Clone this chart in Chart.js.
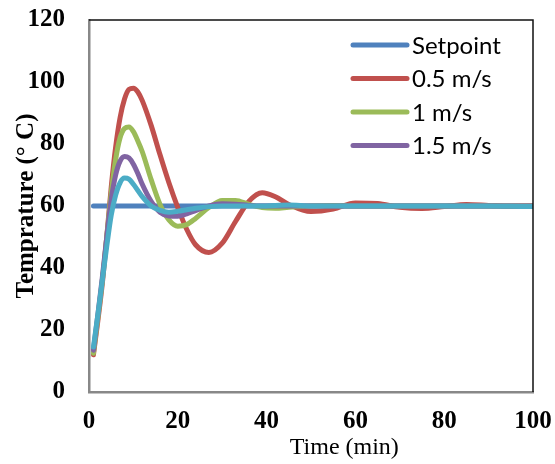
<!DOCTYPE html>
<html>
<head>
<meta charset="utf-8">
<script src="https://cdn.jsdelivr.net/npm/chart.js@4.4.1/dist/chart.umd.min.js"></script>
<style>
  body { margin: 0; background: #fff; }
  #wrap { width: 555px; height: 464px; }
</style>
</head>
<body>
<div id="wrap"><canvas id="myChart" width="555" height="464"></canvas></div>
<script>
// Data
const time =     [1,  2,  3,  4,  5,  6,  7,  8,  9,  10, 11, 12, 14, 16, 18, 20, 22, 24, 27, 30, 33, 36, 39, 42, 45, 50, 55, 60, 65, 70, 75, 80, 85, 90, 95, 100];
const setpoint = [60, 60, 60, 60, 60, 60, 60, 60, 60, 60, 60, 60, 60, 60, 60, 60, 60, 60, 60, 60, 60, 60, 60, 60, 60, 60, 60, 60, 60, 60, 60, 60, 60, 60, 60, 60];
const v05 =      [12, 23, 35, 50, 66, 79, 88.5, 94.5, 97.6, 98, 96.8, 94, 86, 76.5, 67.5, 59.5, 52.5, 47.5, 45, 48, 55, 61.5, 64.3, 63, 60.5, 58.2, 59, 61, 60.8, 59.6, 59.2, 59.8, 60.5, 60.2, 59.9, 60];
const v1 =       [12.5, 24, 36, 50, 64, 75, 82, 85, 85.5, 84, 81, 77.5, 68.5, 60.5, 55.5, 53.5, 54, 56, 59.5, 61.8, 61.8, 60.5, 59.5, 59.3, 59.6, 60, 60.2, 60, 60, 60, 60, 60, 60, 60, 60, 60];
const v15 =      [13.5, 25, 37, 50, 62, 70, 74.5, 76, 75.5, 73.5, 70.5, 67, 61.5, 58, 56.8, 56.7, 57.5, 58.5, 60, 60.7, 60.6, 60.2, 60, 60, 60, 60, 60, 60, 60, 60, 60, 60, 60, 60, 60, 60];
const v2 =       [14.5, 25, 36, 47, 57, 63.5, 67.5, 69, 68.7, 67, 65, 63, 60, 58.6, 58, 58.3, 58.8, 59.3, 59.8, 60, 60, 60, 60, 60.2, 60.3, 60, 60, 60, 60, 60, 60, 60, 60, 60, 59.9, 59.8];
const seriesLabels = ['Setpoint', '0.5 m/s', '1 m/s', '1.5 m/s', '2 m/s'];
const seriesValues = [setpoint, v05, v1, v15, v2];
const colors = ['#4F81BD', '#C0504D', '#9BBB59', '#8064A2', '#4BACC6'];
const legendCount = 4; // last series is not in the legend of the original
const xTicks = [0, 20, 40, 60, 80, 100];
const yTicks = [0, 20, 40, 60, 80, 100, 120];

const datasets = seriesValues.map((vals, i) => ({
  label: seriesLabels[i],
  data: time.map((t, j) => ({ x: t, y: vals[j] })),
  borderColor: colors[i],
  backgroundColor: colors[i],
  borderWidth: 5,
  borderCapStyle: 'round',
  borderJoinStyle: 'round',
  pointRadius: 0,
  cubicInterpolationMode: 'monotone',
  order: seriesValues.length - i
}));

// frame + legend + x title
const extras = {
  id: 'extras',
  afterDraw(chart) {
    const c = chart.ctx, a = chart.chartArea;
    c.save();
    // top and right frame
    c.strokeStyle = '#111';
    c.lineWidth = 1.5;
    c.beginPath();
    c.moveTo(a.left, a.top);
    c.lineTo(a.right, a.top);
    c.lineTo(a.right, a.bottom);
    c.stroke();
    // legend
    c.font = '24px Lato';
    c.textBaseline = 'middle';
    c.textAlign = 'left';
    for (let i = 0; i < legendCount; i++) {
      const y = a.top + 25 + i * 33.5;
      c.strokeStyle = colors[i];
      c.lineWidth = 5;
      c.lineCap = 'round';
      c.beginPath();
      c.moveTo(a.right - 180, y);
      c.lineTo(a.right - 126, y);
      c.stroke();
      c.fillStyle = '#000';
      c.fillText(seriesLabels[i], a.right - 121, y + 1);
    }
    // x axis title
    c.font = '24px "Liberation Serif"';
    c.textAlign = 'center';
    c.fillText('Time (min)', a.left + (a.right - a.left) * 0.575, 448);
    c.restore();
  }
};

const ctx = document.getElementById('myChart').getContext('2d');
const myChart = new Chart(ctx, {
  type: 'line',
  data: { datasets },
  options: {
    responsive: false,
    animation: false,
    layout: { padding: { top: 20, right: 22, left: 0, bottom: 0 } },
    plugins: { legend: { display: false }, tooltip: { enabled: false } },
    scales: {
      x: {
        type: 'linear',
        min: 0, max: 100,
        afterBuildTicks: s => { s.ticks = xTicks.map(v => ({ value: v })); },
        afterFit: s => { s.height = 72; },
        grid: { display: false, drawTicks: true, tickLength: 13, tickColor: 'rgba(0,0,0,0)' },
        border: { color: '#888', width: 2.5 },
        ticks: { color: '#000', padding: 2, font: { family: 'Liberation Serif', size: 25, weight: 'bold' } }
      },
      y: {
        min: 0, max: 120,
        afterBuildTicks: s => { s.ticks = yTicks.map(v => ({ value: v })); },
        afterFit: s => { s.width = 89; },
        grid: { display: false, drawTicks: true, tickLength: 22, tickColor: 'rgba(0,0,0,0)' },
        border: { color: '#888', width: 2.5 },
        ticks: { color: '#000', padding: 2, font: { family: 'Liberation Serif', size: 25, weight: 'bold' } },
        title: {
          display: true,
          text: 'Temprature (° C)',
          color: '#000',
          padding: { top: 12, bottom: 0 },
          font: { family: 'Liberation Serif', size: 25, weight: 'bold' }
        }
      }
    }
  },
  plugins: [extras]
});
</script>
</body>
</html>
